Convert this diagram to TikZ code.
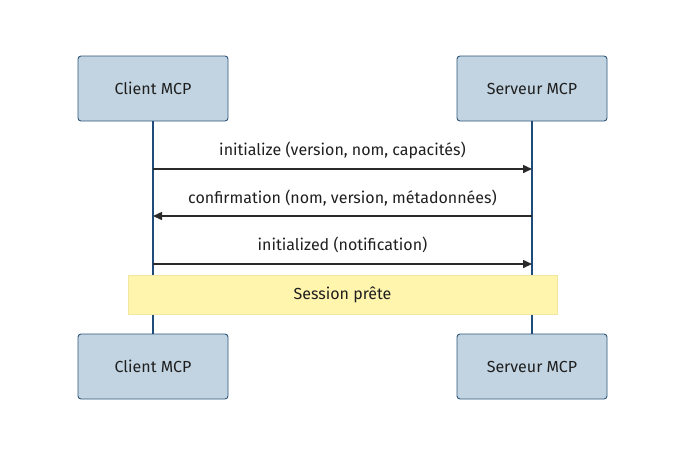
\documentclass[tikz,border=0pt]{standalone}
\usepackage{fontspec}
\setmainfont{Fira Sans}
\usetikzlibrary{arrows.meta}
\definecolor{actfill}{HTML}{C2D4E1}
\definecolor{actdraw}{HTML}{2E557A}
\definecolor{lifecol}{HTML}{1F4C78}
\definecolor{msgcol}{HTML}{2A2A2A}
\definecolor{notefill}{HTML}{FFF5AD}
\definecolor{notedraw}{HTML}{F2E6A0}
\begin{document}
\begin{tikzpicture}[x=1pt,y=-1pt,
  actor/.style={draw=actdraw,fill=actfill,rounded corners=3pt,line width=0.9pt,minimum width=150pt,minimum height=65pt,inner sep=0pt,font=\fontsize{16}{19}\selectfont,text=black!88},
  life/.style={draw=lifecol,line width=1.6pt},
  msg/.style={draw=msgcol,line width=1.5pt,-{Triangle[length=9pt,width=8pt]}},
  lbl/.style={font=\fontsize{16}{19}\selectfont,text=black!88},
  note/.style={draw=notedraw,fill=notefill,line width=0.8pt,minimum width=429pt,minimum height=39pt,inner sep=0pt,font=\fontsize{16}{19}\selectfont,text=black!88}]
\useasboundingbox (0,0) rectangle (685,456);
\node[actor] (ct) at (153,88.5) {Client MCP};
\node[actor] (st) at (532,88.5) {Serveur MCP};
\node[actor] (cb) at (153,366.5) {Client MCP};
\node[actor] (sb) at (532,366.5) {Serveur MCP};
\draw[life] (ct.south) -- (cb.north);
\draw[life] (st.south) -- (sb.north);
\coordinate (c1) at (153,169); \coordinate (s1) at (532,169);
\coordinate (c2) at (153,216); \coordinate (s2) at (532,216);
\coordinate (c3) at (153,264); \coordinate (s3) at (532,264);
\draw[msg] (c1) -- (s1);
\draw[msg] (s2) -- (c2);
\draw[msg] (c3) -- (s3);
\node[lbl] (l1) at (342.5,150) {initialize (version, nom, capacités)};
\node[lbl] (l2) at (342.5,198) {confirmation (nom, version, métadonnées)};
\node[lbl] (l3) at (342.5,245) {initialized (notification)};
\node[note] (n) at (342.5,294.5) {Session prête};
\end{tikzpicture}
\end{document}
